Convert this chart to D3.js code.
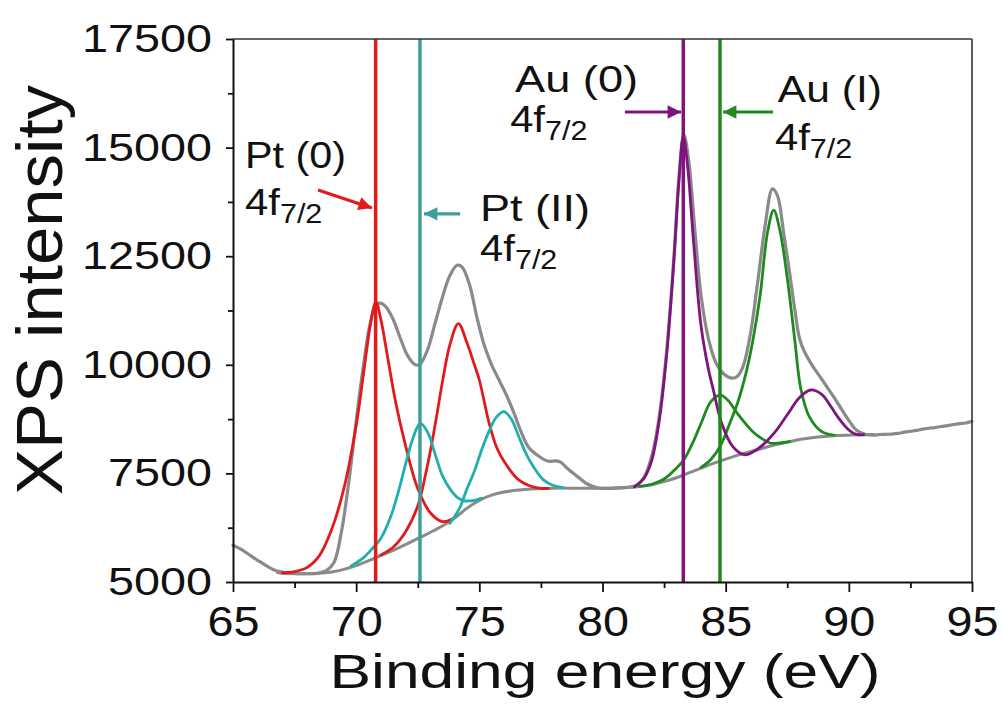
<!DOCTYPE html>
<html><head><meta charset="utf-8">
<script src="https://cdn.jsdelivr.net/npm/d3@7"></script>
<style>body{margin:0;background:#fff}svg{display:block}</style>
</head><body><svg id="c" width="1003" height="707"></svg>
<script>
// ---------- data ----------
const xTicks = [65, 70, 75, 80, 85, 90, 95];
const yTicks = [5000, 7500, 10000, 12500, 15000, 17500];
const xMinor = [67.5, 72.5, 77.5, 82.5, 87.5, 92.5];
const yMinor = [6250, 8750, 11250, 13750, 16250];

// measured XPS spectrum (grey)
const dataE = [65.0,65.3,65.6,66.0,66.4,66.8,67.2,67.6,68.0,68.4,68.8,69.1,69.4,69.7,70.0,70.3,70.55,70.8,71.0,71.2,71.5,71.8,72.1,72.4,72.6,72.9,73.2,73.5,73.8,74.1,74.3,74.6,74.9,75.2,75.5,75.8,76.1,76.4,76.7,77.0,77.4,77.8,78.1,78.3,78.6,79.0,79.4,79.8,80.2,80.6,81.0,81.4,81.7,82.0,82.3,82.6,82.9,83.1,83.3,83.5,83.75,84.0,84.3,84.6,84.9,85.2,85.45,85.7,86.0,86.3,86.6,86.9,87.1,87.35,87.6,87.8,88.0,88.2,88.5,88.8,89.1,89.4,89.7,90.0,90.3,90.6,90.75,91.0,91.25,91.5,91.75,92.0,92.25,92.5,92.75,93.0,93.25,93.5,93.75,94.0,94.25,94.5,94.75,95.0];
const dataI = [5850,5760,5650,5500,5360,5250,5210,5195,5190,5200,5270,5450,6150,7300,8700,10000,10900,11380,11420,11340,11050,10600,10200,10000,10020,10350,10950,11550,12050,12290,12250,11850,11100,10450,10000,9650,9300,8900,8450,8100,7900,7780,7790,7760,7600,7420,7250,7170,7155,7165,7180,7230,7420,7900,8800,10300,12500,14300,15300,14700,13100,11600,10600,10050,9800,9700,9720,9950,10700,11900,13200,14050,13900,13050,12100,11300,10600,10300,10000,9750,9500,9250,8980,8720,8500,8410,8390,8380,8395,8400,8405,8420,8450,8470,8490,8520,8540,8555,8580,8600,8625,8645,8660,8700];

// Shirley background (grey)
const bgE = [66.8,67.0,67.5,68.0,68.5,69.0,69.5,70.0,70.5,71.0,71.5,72.0,72.5,73.0,73.5,74.0,74.5,75.0,75.5,76.0,76.5,77.0,77.5,78.0,79.0,80.0,80.5,81.0,81.5,82.0,82.5,83.0,83.5,84.0,84.5,85.0,85.5,86.0,86.5,87.0,87.5,88.0,88.5,89.0,89.5,90.0,90.5,91.0];
const bgI = [5220,5200,5190,5190,5200,5230,5290,5380,5490,5610,5730,5860,6000,6140,6290,6470,6700,6880,7000,7070,7110,7135,7150,7160,7160,7160,7165,7175,7200,7240,7310,7400,7510,7620,7730,7830,7920,8000,8080,8160,8220,8280,8320,8350,8370,8380,8390,8395];

// fitted components (background included)
const ptAE = [67.0,67.5,68.0,68.5,69.0,69.5,70.0,70.3,70.6,70.8,71.0,71.3,71.6,72.0,72.5,73.0,73.5,73.9];
const ptAI = [5210,5240,5330,5600,6200,7150,8600,9800,11000,11450,11050,10100,9150,8150,7150,6600,6390,6450];
const ptBE = [71.0,71.5,72.0,72.5,72.9,73.2,73.5,73.8,74.15,74.5,74.8,75.0,75.4,75.7,76.0,76.6,77.3,77.8];
const ptBI = [5620,5800,6150,6750,7700,8600,9600,10450,10950,10500,10000,9650,8650,8100,7780,7350,7170,7155];
const pt2AE = [69.8,70.3,70.7,71.0,71.4,71.7,72.0,72.3,72.6,72.9,73.2,73.5,73.8,74.1,74.4,74.8,75.1];
const pt2AI = [5370,5560,5800,6000,6500,7050,7700,8300,8650,8450,7950,7450,7150,6950,6870,6880,6930];
const pt2BE = [73.8,74.2,74.5,74.8,75.1,75.4,75.7,76.0,76.3,76.6,76.9,77.2,77.6,78.0,78.4];
const pt2BI = [6350,6700,7150,7550,8050,8480,8800,8920,8750,8350,7950,7650,7350,7220,7170];
const au0E = [81.3,81.7,82.0,82.3,82.6,82.9,83.1,83.28,83.45,83.7,84.0,84.3,84.5,84.84,85.3,85.75,86.1,86.5,87.0,87.5,88.0,88.45,88.9,89.2,89.6,90.0,90.3,90.6];
const au0I = [7190,7400,7800,8700,10200,12400,14200,15250,14600,12800,10900,9900,9420,8650,8110,7930,7990,8150,8450,8850,9250,9420,9320,9100,8760,8500,8400,8390];
const au1AE = [81.5,82.0,82.5,83.0,83.3,83.7,84.0,84.4,84.77,85.1,85.45,85.8,86.1,86.5,86.8,87.2,87.6];
const au1AI = [7200,7250,7370,7620,7810,8250,8650,9150,9300,9180,8900,8650,8460,8290,8200,8200,8230];
const au1BE = [84.0,84.4,84.8,85.2,85.5,85.8,86.1,86.4,86.7,86.95,87.2,87.5,87.8,88.05,88.4,88.9,89.4];
const au1BI = [7640,7820,8150,8700,9150,9750,10550,11600,13050,13560,13100,12000,10600,9450,8800,8460,8380];

// reference lines (binding energies, eV)
const markerE = [70.79, 72.59, 83.28, 84.77];

// annotations: label position and arrow (from -> to) in data units
const annNames = ["Pt (0)", "Pt (II)", "Au (0)", "Au (I)"];
const annNameE = [65.49, 75.03, 76.45, 87.12];
const annNameI = [14530, 13300, 16287, 16057];
const annSubE = [65.49, 75.03, 76.25, 87.0];
const annSubI = [13448, 12400, 15366, 14945];
const arrowFromE = [68.45, 74.22, 80.91, 86.92];
const arrowFromI = [14024, 13475, 15819, 15819];
const arrowToE = [70.64, 72.75, 83.19, 84.89];
const arrowToI = [13610, 13475, 15819, 15819];

// ---------- styles ----------
const RED = "#e31a1c", TEAL_LINE = "#3f9d9d", TEAL = "#1fb0ad", PURPLE = "#7e157f", GREEN = "#1e8a1e", GREY = "#8a8a8a";
const markerColors = [RED, TEAL_LINE, PURPLE, GREEN];
const nameWidths = [101, 110, 123, 104];
const FONT = "'Liberation Sans', Arial, sans-serif";

const svg = d3.select("#c");
const x = d3.scaleLinear().domain([65, 95]).range([233, 972]);
const y = d3.scaleLinear().domain([5000, 17500]).range([582, 39]);

const zip = (E, I) => E.map((e, i) => [e, I[i]]);
const line = d3.line().x(d => x(d[0])).y(d => y(d[1])).curve(d3.curveCatmullRom.alpha(0.5));

const plot = svg.append("g");
function drawCurve(E, I, color, w) {
  plot.append("path").datum(zip(E, I)).attr("d", line)
    .attr("fill", "none").attr("stroke", color).attr("stroke-width", w)
    .attr("stroke-linejoin", "round").attr("stroke-linecap", "round");
}
drawCurve(dataE, dataI, GREY, 3.2);
drawCurve(bgE, bgI, GREY, 3);
drawCurve(ptAE, ptAI, RED, 2.8);
drawCurve(ptBE, ptBI, RED, 2.8);
drawCurve(pt2AE, pt2AI, TEAL, 2.8);
drawCurve(pt2BE, pt2BI, TEAL, 2.8);
drawCurve(au1AE, au1AI, GREEN, 2.8);
drawCurve(au1BE, au1BI, GREEN, 2.8);
drawCurve(au0E, au0I, PURPLE, 2.8);

// vertical reference lines
plot.selectAll("line.ref").data(markerE).enter().append("line")
  .attr("x1", d => x(d)).attr("x2", d => x(d))
  .attr("y1", y(17500)).attr("y2", y(5000))
  .attr("stroke", (d, i) => markerColors[i]).attr("stroke-width", 3.5);

// frame (top / right)
svg.append("line").attr("x1", x(65)).attr("x2", x(95)).attr("y1", y(17500)).attr("y2", y(17500)).attr("stroke", "#333").attr("stroke-width", 1.6);
svg.append("line").attr("x1", x(95)).attr("x2", x(95)).attr("y1", y(17500)).attr("y2", y(5000)).attr("stroke", "#333").attr("stroke-width", 1.6);

// axes
const xAxis = svg.append("g").attr("transform", `translate(0,${y(5000)})`)
  .call(d3.axisBottom(x).tickValues(xTicks).tickSizeInner(10).tickSizeOuter(0).tickPadding(14).tickFormat(d3.format("d")));
svg.append("g").attr("transform", `translate(0,${y(5000)})`)
  .call(d3.axisBottom(x).tickValues(xMinor).tickSize(6).tickFormat(""))
  .call(g => g.select(".domain").remove());
const yAxis = svg.append("g").attr("transform", `translate(${x(65)},0)`)
  .call(d3.axisLeft(y).tickValues(yTicks).tickSizeInner(7).tickSizeOuter(0).tickPadding(14).tickFormat(d3.format("d")));
svg.append("g").attr("transform", `translate(${x(65)},0)`)
  .call(d3.axisLeft(y).tickValues(yMinor).tickSize(5).tickFormat(""))
  .call(g => g.select(".domain").remove());

svg.selectAll(".domain").attr("stroke", "#111").attr("stroke-width", 2);
svg.selectAll(".tick line").attr("stroke", "#111").attr("stroke-width", 1.8);
xAxis.selectAll("text").attr("font-family", FONT).attr("font-size", 42).attr("fill", "#111")
  .attr("textLength", 52).attr("lengthAdjust", "spacingAndGlyphs");
yAxis.selectAll("text").attr("font-family", FONT).attr("font-size", 39).attr("fill", "#111")
  .attr("textLength", d => String(d).length * 26).attr("lengthAdjust", "spacingAndGlyphs");

// axis titles
svg.append("text").attr("x", 605).attr("y", 688).attr("text-anchor", "middle")
  .attr("font-family", FONT).attr("font-size", 49).attr("fill", "#111")
  .attr("textLength", 551).attr("lengthAdjust", "spacingAndGlyphs")
  .text("Binding energy (eV)");
svg.append("text").attr("transform", "translate(62,290) rotate(-90)").attr("text-anchor", "middle")
  .attr("font-family", FONT).attr("font-size", 65).attr("fill", "#111")
  .attr("textLength", 410).attr("lengthAdjust", "spacingAndGlyphs")
  .text("XPS intensity");

// arrows
const defs = svg.append("defs");
markerColors.forEach((c, i) => {
  defs.append("marker").attr("id", "ah" + i).attr("viewBox", "0 0 10 10")
    .attr("refX", 10).attr("refY", 5).attr("markerWidth", 5.8).attr("markerHeight", 4.2)
    .attr("markerUnits", "strokeWidth").attr("orient", "auto")
    .append("path").attr("d", "M0,0 L10,5 L0,10 Z").attr("fill", c);
});
annNames.forEach((n, i) => {
  svg.append("line")
    .attr("x1", x(arrowFromE[i])).attr("y1", y(arrowFromI[i]))
    .attr("x2", x(arrowToE[i])).attr("y2", y(arrowToI[i]))
    .attr("stroke", markerColors[i]).attr("stroke-width", 3.2)
    .attr("marker-end", `url(#ah${i})`);
  svg.append("text").attr("x", x(annNameE[i])).attr("y", y(annNameI[i]))
    .attr("font-family", FONT).attr("font-size", 37).attr("fill", "#111")
    .attr("textLength", nameWidths[i]).attr("lengthAdjust", "spacingAndGlyphs").text(n);
  const g2 = svg.append("g").attr("transform", `translate(${x(annSubE[i])},${y(annSubI[i])}) scale(1.13,1)`);
  const t = g2.append("text").attr("font-family", FONT).attr("font-size", 37).attr("fill", "#111");
  t.append("tspan").text("4f");
  t.append("tspan").attr("font-size", 27).attr("dy", 8).text("7/2");
});
</script></body></html>
